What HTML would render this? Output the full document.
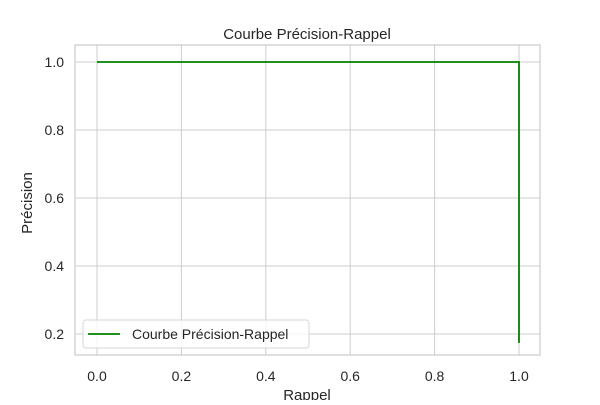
<!DOCTYPE html>
<html><head><meta charset="utf-8"><style>
body{margin:0;background:#fff}
svg text{font-family:"Liberation Sans","DejaVu Sans",sans-serif;fill:#262626}
</style></head><body>
<svg width="600" height="400">
<rect x="0" y="0" width="600" height="400" fill="#fff"/>
<g id="grid"></g>
<rect x="75" y="45" width="465" height="310" fill="none" stroke="#cccccc" stroke-width="1.25"/>
<g id="ticks"></g>
<path id="curve" fill="none" stroke="#008000" stroke-width="1.8"/>
<text x="307" y="39" font-size="15" text-anchor="middle">Courbe Précision-Rappel</text>
<text x="307" y="400" font-size="15" text-anchor="middle">Rappel</text>
<text transform="translate(32,203) rotate(-90)" font-size="15" text-anchor="middle">Précision</text>
<g>
<rect x="83" y="320" width="226" height="28" rx="3" fill="#fff" fill-opacity="0.8" stroke="#d6d6d6"/>
<line x1="88" y1="334" x2="120" y2="334" stroke="#008000" stroke-width="1.8"/>
<text x="132" y="339" font-size="14">Courbe Précision-Rappel</text>
</g>
</svg>
<script>
const recall=[0,1,1];
const precision=[1,1,0.174];
const xTicks=[0,0.2,0.4,0.6,0.8,1.0];
const yTicks=[0.2,0.4,0.6,0.8,1.0];
const xs=v=>97+v*422;
const ys=v=>62+(1-v)*340;
const NS='http://www.w3.org/2000/svg';
const grid=document.getElementById('grid'),ticks=document.getElementById('ticks');
xTicks.forEach(t=>{
 const l=document.createElementNS(NS,'line');
 
 
 l.setAttribute('x1',xs(t));l.setAttribute('x2',xs(t));l.setAttribute('y1',45);l.setAttribute('y2',355);
 l.setAttribute('stroke','#cccccc');l.setAttribute('stroke-width','1');grid.appendChild(l);
 const tx=document.createElementNS(NS,'text');
 
 
 tx.setAttribute('x',xs(t));tx.setAttribute('y',381);tx.setAttribute('font-size','14');tx.setAttribute('text-anchor','middle');
 tx.textContent=t.toFixed(1);ticks.appendChild(tx);
});
yTicks.forEach(t=>{
 const l=document.createElementNS(NS,'line');
 
 
 l.setAttribute('x1',75);l.setAttribute('x2',540);l.setAttribute('y1',ys(t));l.setAttribute('y2',ys(t));
 l.setAttribute('stroke','#cccccc');l.setAttribute('stroke-width','1');grid.appendChild(l);
 const tx=document.createElementNS(NS,'text');
 
 
 tx.setAttribute('x',64);tx.setAttribute('y',ys(t)+5);tx.setAttribute('font-size','14');tx.setAttribute('text-anchor','end');
 tx.textContent=t.toFixed(1);ticks.appendChild(tx);
});
document.getElementById('curve').setAttribute('d',recall.map((r,i)=>(i?'L':'M')+xs(r)+','+ys(precision[i])).join(' '));
</script>
</body></html>
